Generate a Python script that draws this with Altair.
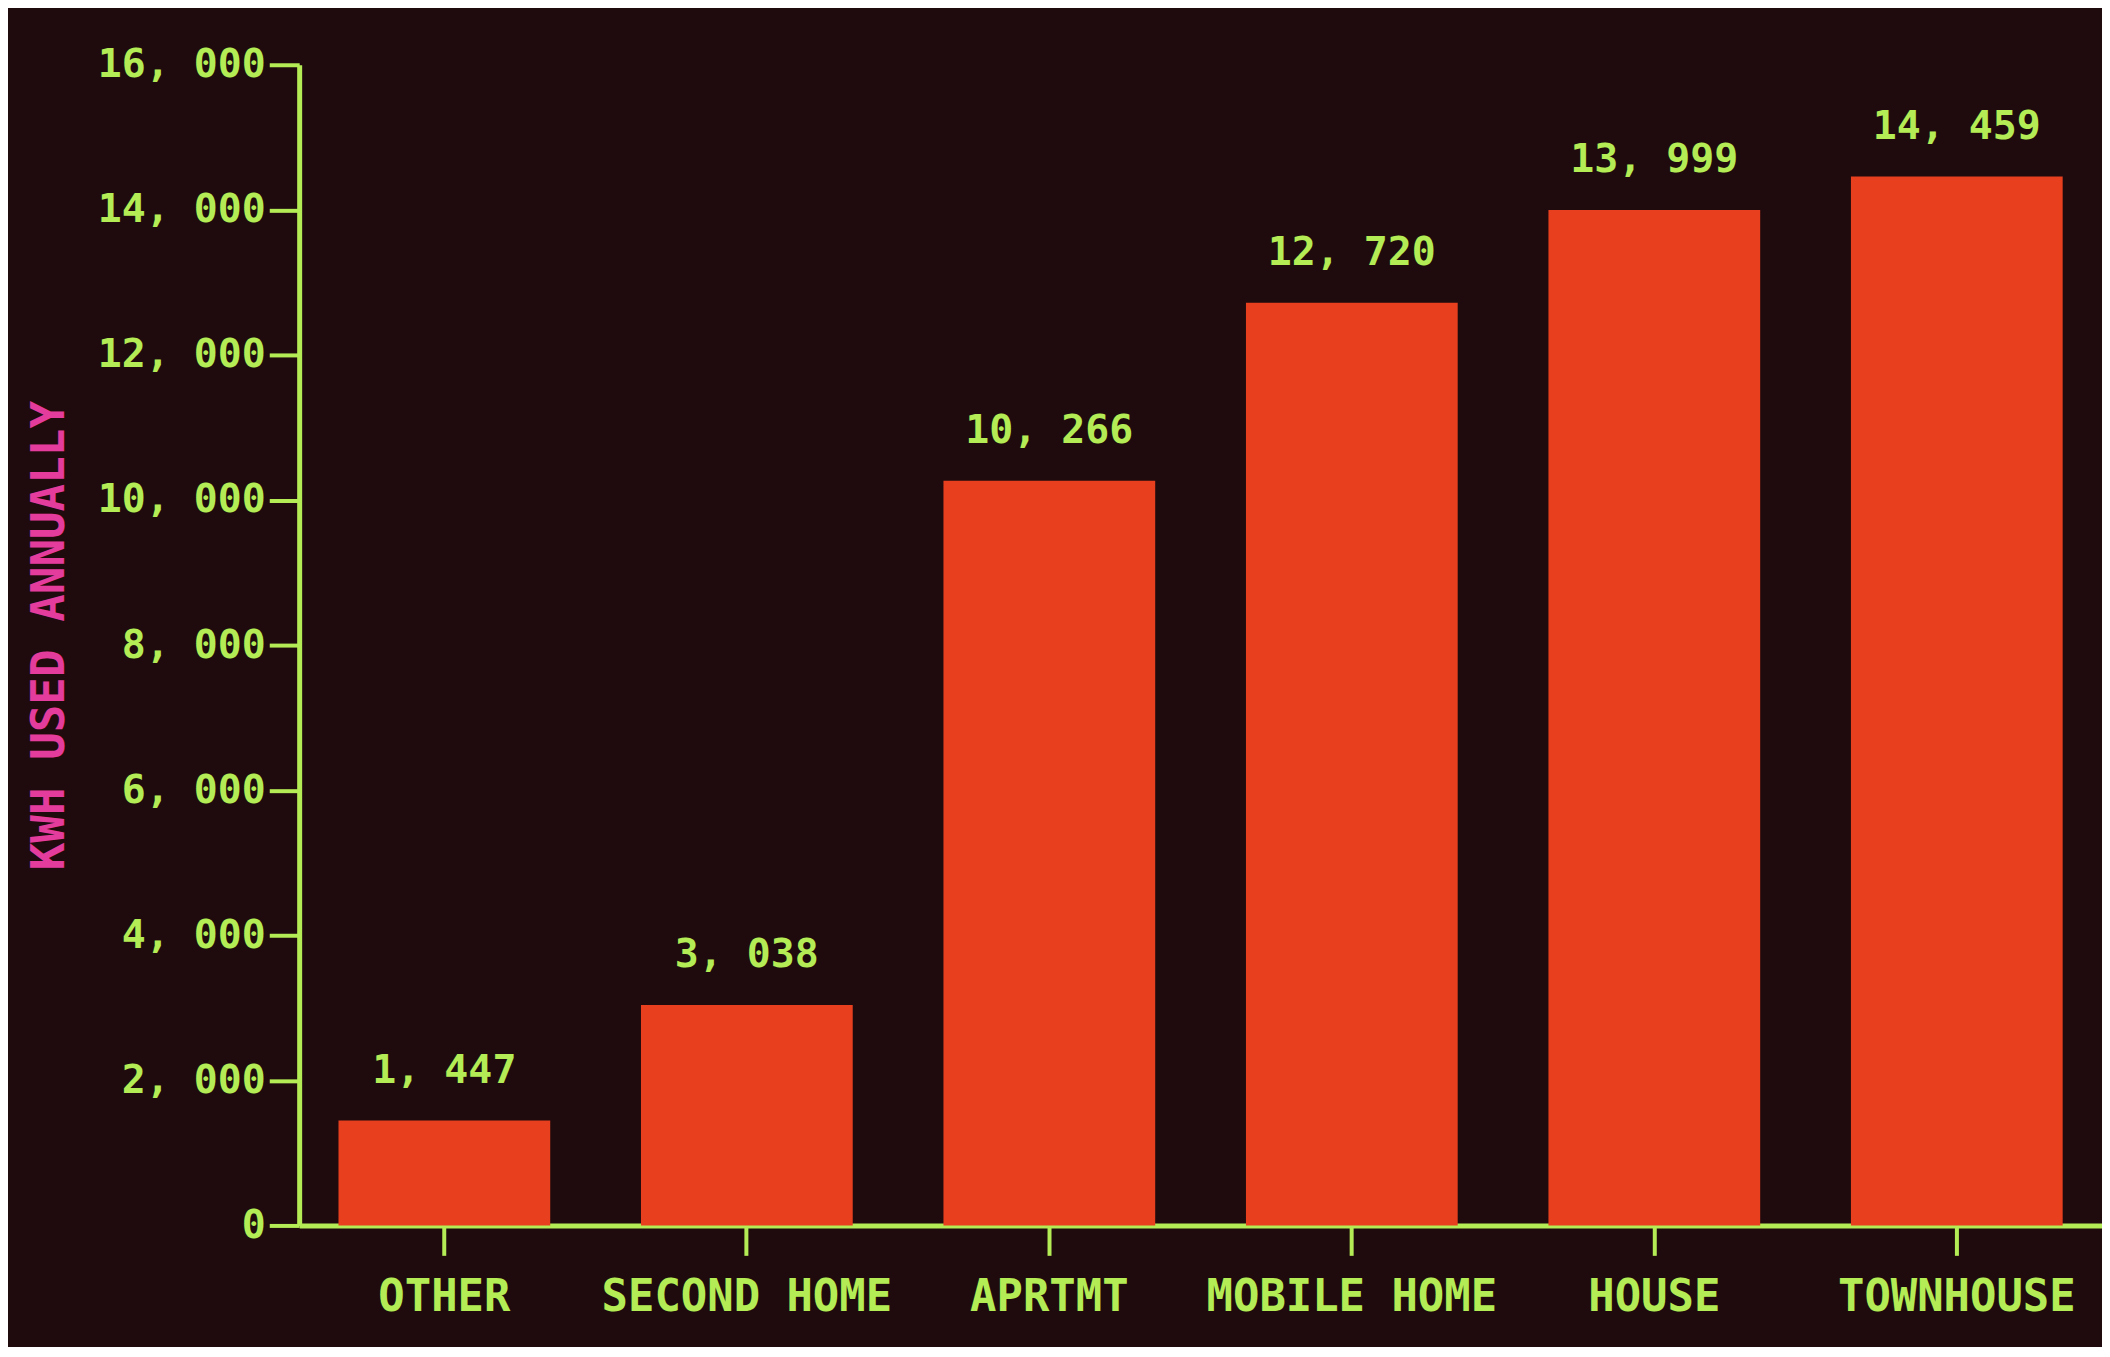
import altair as alt
import pandas as pd

categories = ["OTHER", "SECOND HOME", "APRTMT", "MOBILE HOME", "HOUSE", "TOWNHOUSE"]
kwh_values = [1447, 3038, 10266, 12720, 13999, 14459]
y_ticks = [0, 2000, 4000, 6000, 8000, 10000, 12000, 14000, 16000]

df = pd.DataFrame({"category": categories, "kwh": kwh_values})

BG = "#1f0b0e"
GREEN = "#b4ec55"
BAR = "#e8401e"
MAGENTA = "#e33c9c"
FONT = "DejaVu Sans Mono"

x_enc = alt.X(
    "category:N",
    sort=categories,
    scale=alt.Scale(paddingInner=0.3, paddingOuter=0.13),
    axis=alt.Axis(
        title=None,
        labelAngle=0,
        labelFont=FONT,
        labelFontWeight="bold",
        labelFontSize=44,
        labelColor=GREEN,
        labelPadding=20,
        labelLimit=0,
        domainColor=GREEN,
        domainWidth=5,
        tickColor=GREEN,
        tickWidth=4,
        tickSize=30,
        labelOverlap=False,
    ),
)

y_enc = alt.Y(
    "kwh:Q",
    scale=alt.Scale(domain=[0, 16000], nice=False),
    axis=alt.Axis(
        title="KWH USED ANNUALLY",
        values=y_ticks,
        labelExpr="replace(format(datum.value, ','), ',', ', ')",
        labelFont=FONT,
        labelFontWeight="bold",
        labelFontSize=40,
        labelColor=GREEN,
        labelPadding=4,
        labelLimit=0,
        domainColor=GREEN,
        domainWidth=5,
        tickColor=GREEN,
        tickWidth=4,
        tickSize=30,
        grid=False,
        titleFont=FONT,
        titleFontWeight="bold",
        titleFontSize=46,
        titleColor=MAGENTA,
        titleAngle=-90,
        titleAlign="center",
        titleBaseline="middle",
        titleX=-250,
        titleY=572,
    ),
)

bars = alt.Chart(df).mark_bar(color=BAR).encode(x=x_enc, y=y_enc)

labels = (
    alt.Chart(df)
    .transform_calculate(lbl="replace(format(datum.kwh, ','), ',', ', ')")
    .mark_text(
        font=FONT,
        fontWeight="bold",
        fontSize=40,
        color=GREEN,
        baseline="bottom",
        dy=-30,
    )
    .encode(x=alt.X("category:N", sort=categories), y="kwh:Q", text="lbl:N")
)

chart = (
    alt.layer(bars, labels)
    .properties(
        width=1808,
        height=1164,
        background=BG,
        padding={"left": 292, "top": 55, "right": 0, "bottom": 120},
        autosize=alt.AutoSizeParams(type="none"),
    )
    .configure_view(stroke=None)
)

chart.save("out.html", embed_options={"renderer": "svg", "actions": False})
